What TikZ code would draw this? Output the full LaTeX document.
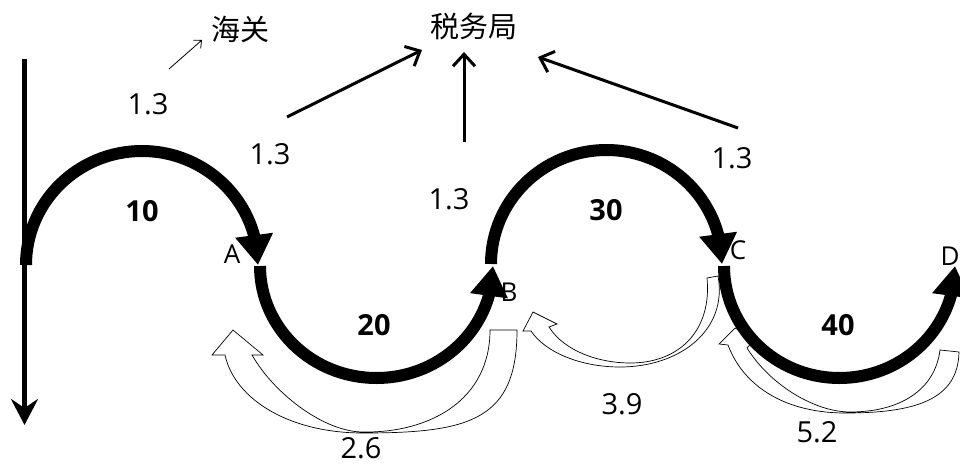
\documentclass[tikz,border=0pt]{standalone}
\usepackage{fontspec}
\setmainfont{Open Sans}
\newfontfamily\cjk{Noto Sans CJK SC}
\usetikzlibrary{arrows.meta,bending}
\begin{document}
\begin{tikzpicture}[x=1pt,y=-1pt,
  bigarc/.style={line width=12pt,-{Triangle[length=30pt,width=36pt]}},
  num/.style={font=\fontsize{29}{32}\selectfont,inner sep=0pt},
  bnum/.style={font=\fontsize{29}{32}\selectfont\bfseries,inner sep=0pt},
  letter/.style={font=\fontsize{26}{28}\selectfont,inner sep=0pt},
  cn/.style={font=\fontsize{29}{32}\selectfont\cjk,inner sep=0pt},
  taxarrow/.style={line width=3pt,-{Straight Barb[length=12pt,width=22pt]}},
  hollow/.style={draw=black,fill=white,line width=0.7pt,line join=miter}
]
\useasboundingbox (0,0) rectangle (960,465);

% texts
\node[cn] (hg) at (240,29) {海关};
\node[cn] (swj) at (474,27) {税务局};
\node[num] (va) at (148,104) {1.3};
\node[num] (vb) at (270,154) {1.3};
\node[num] (vc) at (449,199) {1.3};
\node[num] (vd) at (732,158) {1.3};
\node[bnum] (f10) at (142,211) {10};
\node[bnum] (f20) at (374,325) {20};
\node[bnum] (f30) at (606,210) {30};
\node[bnum] (f40) at (838,325) {40};
\node[num] (r26) at (361,448) {2.6};
\node[num] (r39) at (622,404) {3.9};
\node[num] (r52) at (817,432) {5.2};
\node[letter] (la) at (232,254) {A};
\node[letter] (lb) at (509,292) {B};
\node[letter] (lc) at (738,250) {C};
\node[letter] (ld) at (950,256) {D};

% hollow return arrows (behind the thick arcs)
\draw[hollow] (517,330) .. controls (517,420) and (470,433) .. (363,433)
  .. controls (290,433) and (235,400) .. (225,355)
  -- (212,355) -- (233,330) -- (263,355) -- (252,355)
  .. controls (275,395) and (325,432) .. (363,432)
  .. controls (430,433) and (490,400) .. (490,330) -- cycle;
\draw[hollow] (718,276) .. controls (728,330) and (680,367) .. (620,367)
  .. controls (580,367) and (545,352) .. (531,331)
  -- (523,331) -- (533,312) -- (557,324) -- (549,327)
  .. controls (565,352) and (600,363) .. (630,363)
  .. controls (680,363) and (712,330) .. (707,278) -- cycle;
\draw[hollow] (959,352) .. controls (958,400) and (915,413) .. (845,413)
  .. controls (790,413) and (745,390) .. (728,345)
  -- (719,344) -- (735,328) -- (755,339) -- (747,348)
  .. controls (770,385) and (815,412) .. (850,412)
  .. controls (900,412) and (935,390) .. (940,350) -- cycle;

% main vertical arrow
\coordinate (v0) at (24.5,59);
\coordinate (v1) at (24.5,425);
\draw[line width=5pt,-{Stealth[length=26pt,width=27pt,inset=9pt]}] (v0) -- (v1);

% thick arcs
\coordinate (p0) at (26,265);
\coordinate (p1) at (260,266);
\coordinate (p2) at (491,264);
\coordinate (p3) at (724,266);
\draw[bigarc] (p0) arc[start angle=180,end angle=360,x radius=116,y radius=114];
\draw[bigarc] (p1) arc[start angle=180,end angle=0,x radius=116.5,y radius=112];
\draw[bigarc] (p2) arc[start angle=180,end angle=360,x radius=115.5,y radius=114];
\draw[bigarc] (p3) arc[start angle=180,end angle=0,x radius=115.5,y radius=112];

% arrows to the tax bureau
\coordinate (t1s) at (287,117);
\coordinate (t1e) at (422,50);
\coordinate (t2s) at (464,142);
\coordinate (t2e) at (464,52);
\coordinate (t3s) at (738,128);
\coordinate (t3e) at (538,57);
\draw[taxarrow] (t1s) -- (t1e);
\draw[taxarrow] (t2s) -- (t2e);
\draw[taxarrow] (t3s) -- (t3e);

% thin arrow to customs
\coordinate (h1) at (169,69);
\coordinate (h2) at (202,40);
\draw[line width=0.8pt,-{Straight Barb[length=6pt,width=11pt]}] (h1) -- (h2);
\end{tikzpicture}
\end{document}
